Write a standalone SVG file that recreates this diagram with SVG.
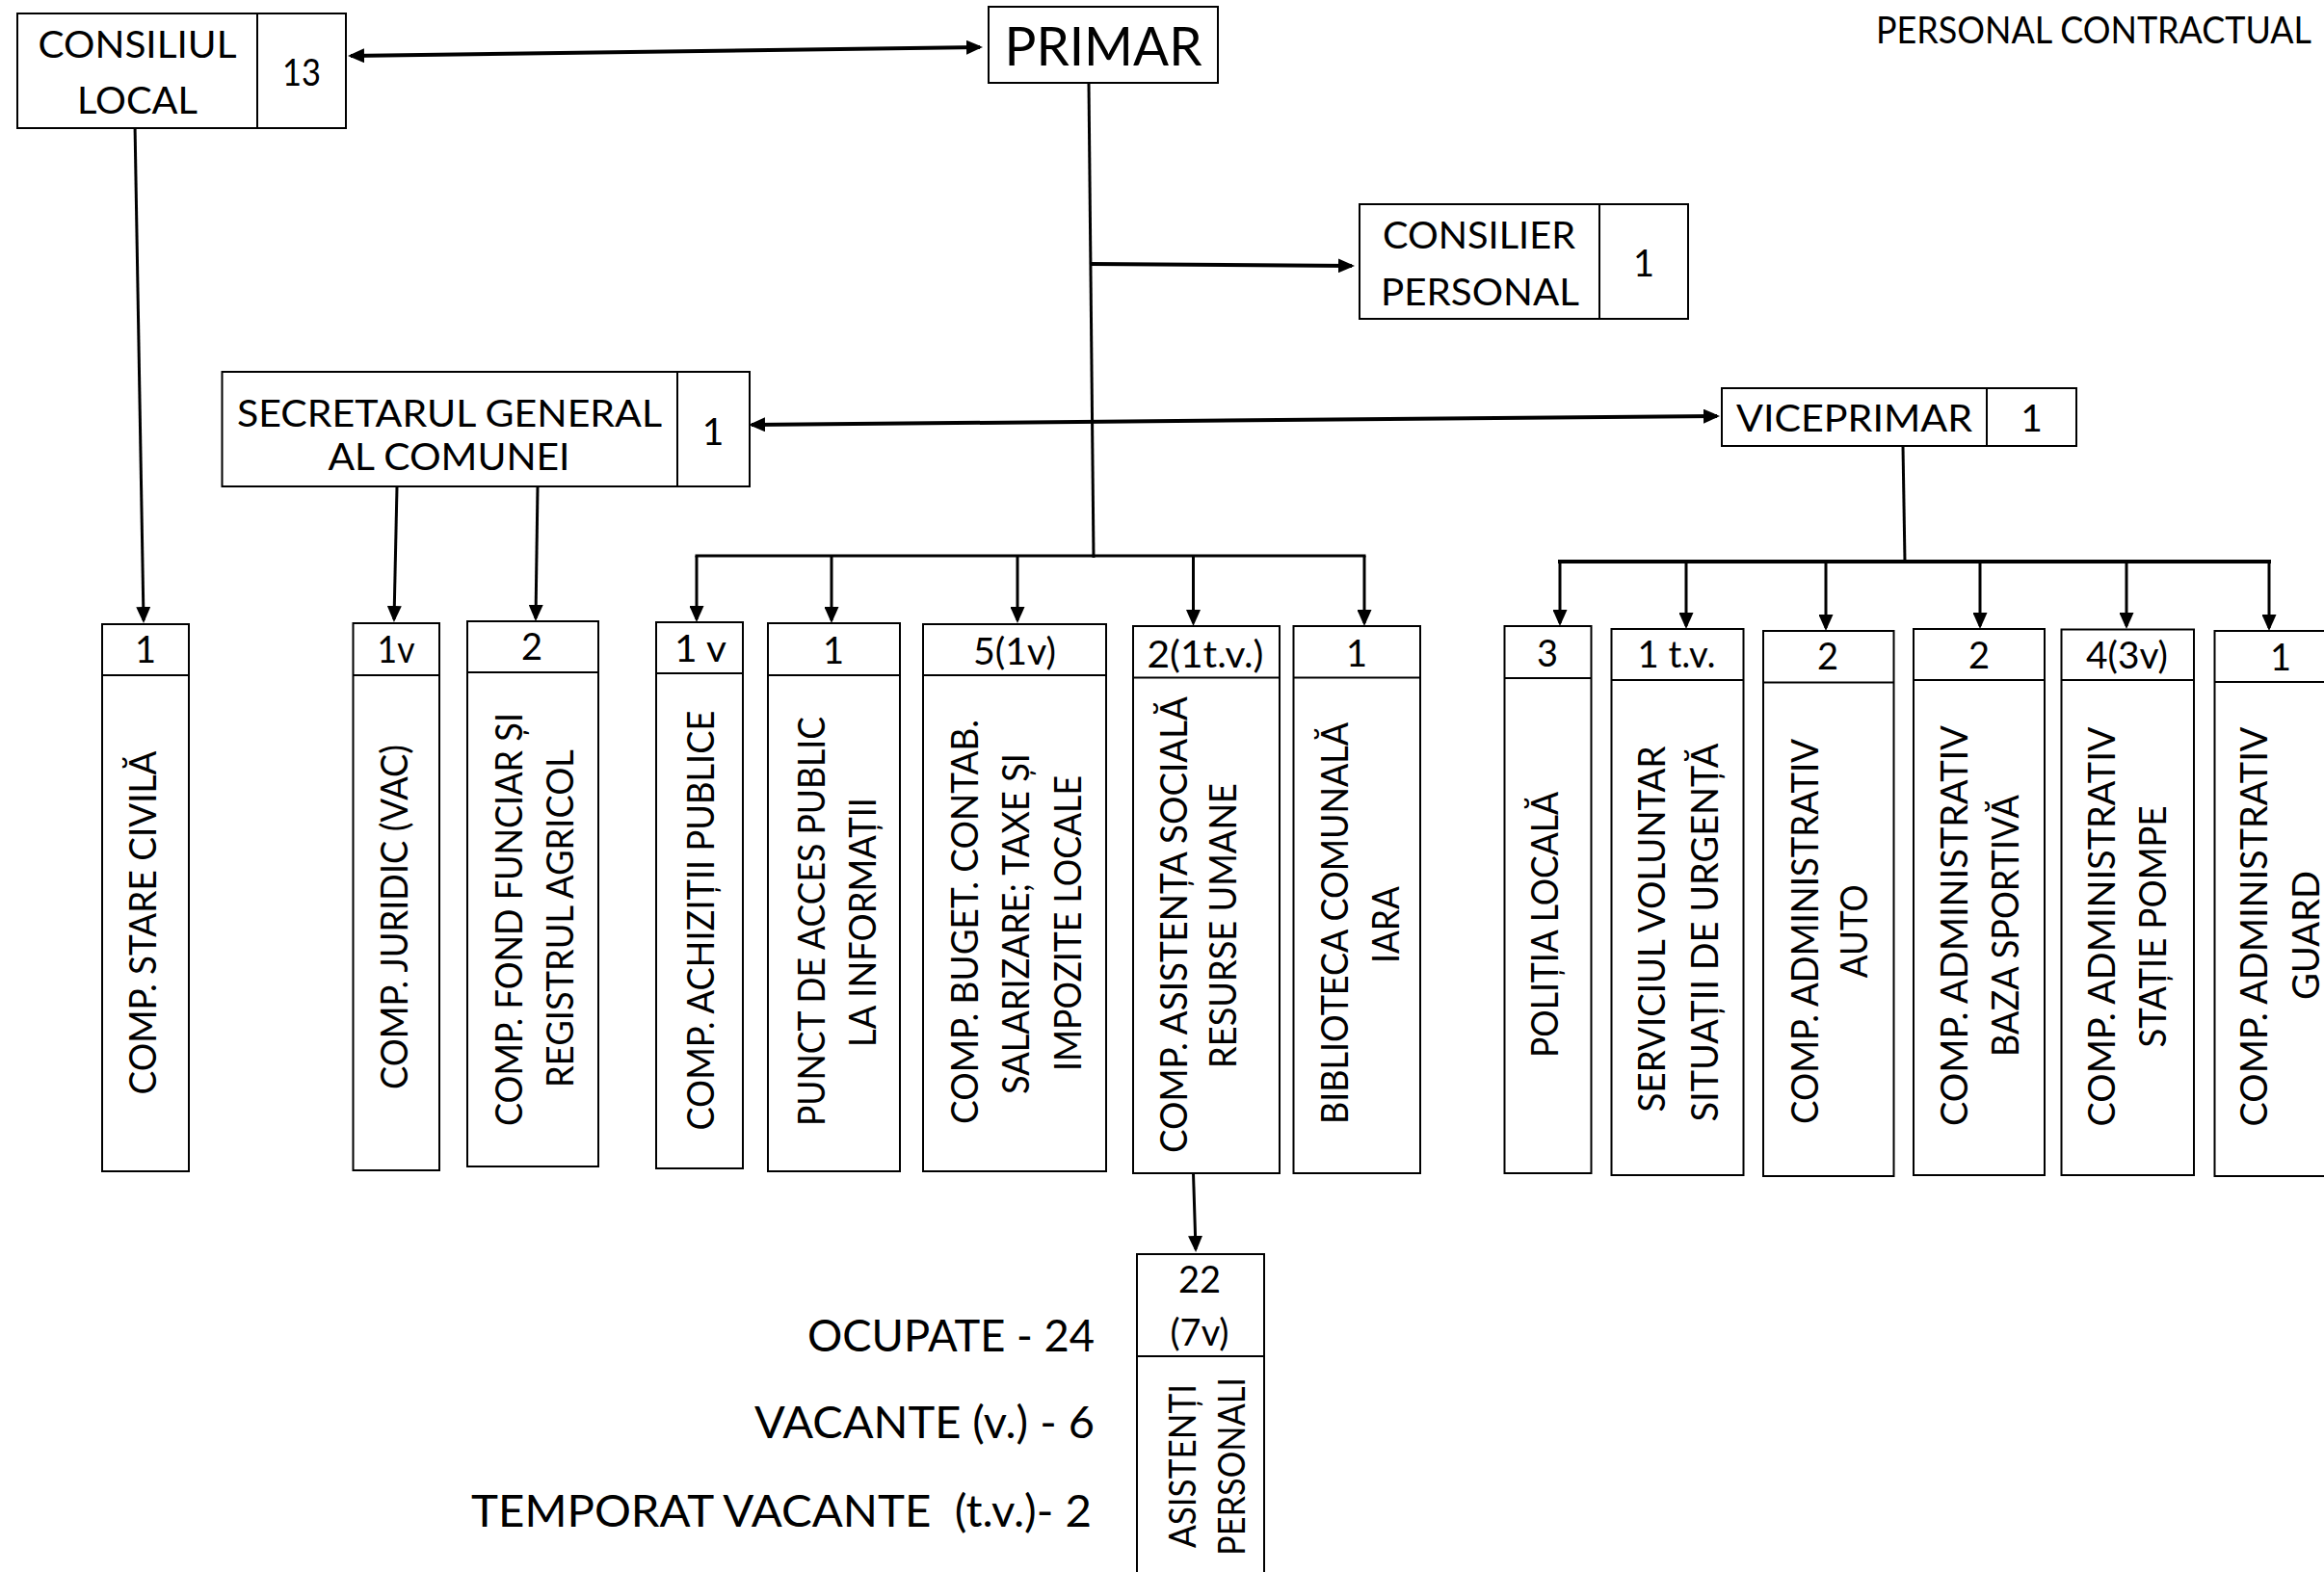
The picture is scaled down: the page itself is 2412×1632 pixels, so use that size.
<svg xmlns="http://www.w3.org/2000/svg" width="2412" height="1632" viewBox="0 0 2412 1632">
<style>
.b{fill:#fff;stroke:#000;stroke-width:2}
.d{stroke:#000;stroke-width:2}
text{font-family:Lato,"Open Sans","Liberation Sans",sans-serif;fill:#000}
.t{font-size:39px;text-anchor:middle}
.n{font-size:38px;text-anchor:middle}
.k{stroke:#000;stroke-width:3;fill:none}
.w{stroke:#000;stroke-width:4;fill:none}
.ar{marker-end:url(#ah)}
.ar2{marker-start:url(#ah);marker-end:url(#ah)}
</style>
<defs>
<marker id="ah" viewBox="0 0 17 15" refX="14" refY="7.5" markerWidth="17" markerHeight="15" markerUnits="userSpaceOnUse" orient="auto-start-reverse"><path d="M0,0 L17,7.5 L0,15 z" fill="#000"/></marker>
</defs>
<rect width="2412" height="1632" fill="#fff"/>

<g id="connectors">
<line class="w ar2" x1="364" y1="58" x2="1017" y2="49"/>
<line class="k ar" x1="140" y1="128" x2="149" y2="644"/>
<line class="k" x1="1130" y1="86" x2="1135" y2="579"/>
<line class="w ar" x1="1131" y1="274" x2="1403" y2="276"/>
<line class="w ar2" x1="780" y1="441" x2="1782" y2="432"/>
<line class="k ar" x1="412" y1="505" x2="409" y2="643"/>
<line class="k ar" x1="558" y1="505" x2="556" y2="642"/>
<line class="k" x1="723" y1="577" x2="1416" y2="577" stroke-linecap="square"/>
<line class="k ar" x1="723" y1="577" x2="723" y2="643"/>
<line class="k ar" x1="863" y1="577" x2="863" y2="644"/>
<line class="k ar" x1="1056" y1="577" x2="1056" y2="644"/>
<line class="k ar" x1="1238.5" y1="577" x2="1238.5" y2="647"/>
<line class="k ar" x1="1416" y1="577" x2="1416" y2="647"/>
<line class="k" x1="1975" y1="463" x2="1977" y2="583"/>
<line class="w" x1="1619" y1="583" x2="2355" y2="583" stroke-linecap="square"/>
<line class="k ar" x1="1619" y1="583" x2="1619" y2="647"/>
<line class="k ar" x1="1750" y1="583" x2="1750" y2="650"/>
<line class="k ar" x1="1895" y1="583" x2="1895" y2="652"/>
<line class="k ar" x1="2055" y1="583" x2="2055" y2="650"/>
<line class="k ar" x1="2207" y1="583" x2="2207" y2="650"/>
<line class="k ar" x1="2355" y1="583" x2="2355" y2="652"/>
<line class="k ar" x1="1238.5" y1="1218" x2="1241" y2="1297"/>
</g>

<g id="consiliul-local">
<rect class="b" x="18" y="14" width="341" height="119"/>
<line class="d" x1="267" y1="14" x2="267" y2="133"/>
<text class="t" x="142.5" y="60" textLength="206" lengthAdjust="spacingAndGlyphs">CONSILIUL</text>
<text class="t" x="142.5" y="118" textLength="125" lengthAdjust="spacingAndGlyphs">LOCAL</text>
<text class="n" x="313" y="89" textLength="40" lengthAdjust="spacingAndGlyphs">13</text>
</g>

<g id="primar">
<rect class="b" x="1026" y="7" width="238" height="79"/>
<text x="1145" y="68" style="font-size:56px;text-anchor:middle" textLength="205" lengthAdjust="spacingAndGlyphs">PRIMAR</text>
</g>

<g id="consilier-personal">
<rect class="b" x="1411" y="212" width="341" height="119"/>
<line class="d" x1="1660" y1="212" x2="1660" y2="331"/>
<text class="t" x="1535" y="258" textLength="200" lengthAdjust="spacingAndGlyphs">CONSILIER</text>
<text class="t" x="1536" y="317" textLength="206" lengthAdjust="spacingAndGlyphs">PERSONAL</text>
<text class="n" x="1706" y="287">1</text>
</g>

<g id="secretarul">
<rect class="b" x="230.5" y="386" width="547.5" height="119"/>
<line class="d" x1="703" y1="386" x2="703" y2="505"/>
<text class="t" x="466.5" y="443" textLength="441" lengthAdjust="spacingAndGlyphs">SECRETARUL GENERAL</text>
<text class="t" x="466" y="488" textLength="251" lengthAdjust="spacingAndGlyphs">AL COMUNEI</text>
<text class="t" x="740" y="462">1</text>
</g>

<g id="viceprimar">
<rect class="b" x="1787" y="403" width="368" height="60"/>
<line class="d" x1="2062" y1="403" x2="2062" y2="463"/>
<text class="t" x="1924.5" y="448" textLength="245" lengthAdjust="spacingAndGlyphs">VICEPRIMAR</text>
<text class="t" x="2108.5" y="448">1</text>
</g>

<g id="titlu">
<text x="2399" y="45" style="font-size:39px;text-anchor:end" textLength="452" lengthAdjust="spacingAndGlyphs">PERSONAL CONTRACTUAL</text>
</g>

<g id="stare-civila">
<rect class="b" x="106" y="648" width="90" height="568"/>
<line class="d" x1="106" y1="701" x2="196" y2="701"/>
<text class="n" x="151" y="688">1</text>
<text class="t" transform="translate(162,958) rotate(-90)" textLength="357" lengthAdjust="spacingAndGlyphs">COMP. STARE CIVILĂ</text>
</g>

<g id="juridic">
<rect class="b" x="366.5" y="647" width="89.5" height="568"/>
<line class="d" x1="366.5" y1="701" x2="456" y2="701"/>
<text class="n" x="411" y="688" textLength="39" lengthAdjust="spacingAndGlyphs">1v</text>
<text class="t" transform="translate(423,952) rotate(-90)" textLength="358" lengthAdjust="spacingAndGlyphs">COMP. JURIDIC (VAC)</text>
</g>

<g id="fond-funciar">
<rect class="b" x="485" y="645" width="136" height="566"/>
<line class="d" x1="485" y1="698" x2="621" y2="698"/>
<text class="n" x="552" y="685">2</text>
<text class="t" transform="translate(541.5,954.5) rotate(-90)" textLength="429" lengthAdjust="spacingAndGlyphs">COMP. FOND FUNCIAR ȘI</text>
<text class="t" transform="translate(595,953.5) rotate(-90)" textLength="351" lengthAdjust="spacingAndGlyphs">REGISTRUL AGRICOL</text>
</g>

<g id="achizitii">
<rect class="b" x="681" y="646" width="90" height="567"/>
<line class="d" x1="681" y1="699" x2="771" y2="699"/>
<text class="n" x="727" y="687" textLength="54" lengthAdjust="spacingAndGlyphs">1 v</text>
<text class="t" transform="translate(741,955.6) rotate(-90)" textLength="436" lengthAdjust="spacingAndGlyphs">COMP. ACHIZIȚII PUBLICE</text>
</g>

<g id="punct-acces">
<rect class="b" x="797" y="647" width="137" height="569"/>
<line class="d" x1="797" y1="701" x2="934" y2="701"/>
<text class="n" x="865" y="689">1</text>
<text class="t" transform="translate(856,956.5) rotate(-90)" textLength="425" lengthAdjust="spacingAndGlyphs">PUNCT DE ACCES PUBLIC</text>
<text class="t" transform="translate(909,957.5) rotate(-90)" textLength="259" lengthAdjust="spacingAndGlyphs">LA INFORMAȚII</text>
</g>

<g id="buget-contab">
<rect class="b" x="958" y="648" width="190" height="568"/>
<line class="d" x1="958" y1="701" x2="1148" y2="701"/>
<text class="n" x="1053" y="690" textLength="86" lengthAdjust="spacingAndGlyphs">5(1v)</text>
<text class="t" transform="translate(1015,957) rotate(-90)" textLength="420" lengthAdjust="spacingAndGlyphs">COMP. BUGET. CONTAB.</text>
<text class="t" transform="translate(1068,959) rotate(-90)" textLength="354" lengthAdjust="spacingAndGlyphs">SALARIZARE; TAXE ȘI</text>
<text class="t" transform="translate(1122,958.5) rotate(-90)" textLength="307" lengthAdjust="spacingAndGlyphs">IMPOZITE LOCALE</text>
</g>

<g id="asistenta-sociala">
<rect class="b" x="1176" y="650" width="152" height="568"/>
<line class="d" x1="1176" y1="703.5" x2="1328" y2="703.5"/>
<text class="n" x="1251" y="692.7" textLength="121" lengthAdjust="spacingAndGlyphs">2(1t.v.)</text>
<text class="t" transform="translate(1232,960) rotate(-90)" textLength="474" lengthAdjust="spacingAndGlyphs">COMP. ASISTENȚA SOCIALĂ</text>
<text class="t" transform="translate(1283,961) rotate(-90)" textLength="296" lengthAdjust="spacingAndGlyphs">RESURSE UMANE</text>
</g>

<g id="biblioteca">
<rect class="b" x="1342.5" y="650" width="131.5" height="568"/>
<line class="d" x1="1342.5" y1="703.5" x2="1474" y2="703.5"/>
<text class="n" x="1408" y="692">1</text>
<text class="t" transform="translate(1399,958.5) rotate(-90)" textLength="417" lengthAdjust="spacingAndGlyphs">BIBLIOTECA COMUNALĂ</text>
<text class="t" transform="translate(1452,960) rotate(-90)" textLength="80" lengthAdjust="spacingAndGlyphs">IARA</text>
</g>

<g id="politia-locala">
<rect class="b" x="1561.5" y="650" width="90" height="568"/>
<line class="d" x1="1561.5" y1="704" x2="1651.5" y2="704"/>
<text class="n" x="1606" y="692">3</text>
<text class="t" transform="translate(1617,960) rotate(-90)" textLength="276" lengthAdjust="spacingAndGlyphs">POLIȚIA LOCALĂ</text>
</g>

<g id="serviciul-voluntar">
<rect class="b" x="1672.5" y="653" width="137" height="567"/>
<line class="d" x1="1672.5" y1="706" x2="1809.5" y2="706"/>
<text class="n" x="1740" y="693" textLength="81" lengthAdjust="spacingAndGlyphs">1 t.v.</text>
<text class="t" transform="translate(1728,964.5) rotate(-90)" textLength="380" lengthAdjust="spacingAndGlyphs">SERVICIUL VOLUNTAR</text>
<text class="t" transform="translate(1783,968) rotate(-90)" textLength="393" lengthAdjust="spacingAndGlyphs">SITUAȚII DE URGENȚĂ</text>
</g>

<g id="adm-auto">
<rect class="b" x="1830" y="655" width="135.5" height="566"/>
<line class="d" x1="1830" y1="708.5" x2="1965.5" y2="708.5"/>
<text class="n" x="1897" y="695">2</text>
<text class="t" transform="translate(1887,967) rotate(-90)" textLength="400" lengthAdjust="spacingAndGlyphs">COMP. ADMINISTRATIV</text>
<text class="t" transform="translate(1938,966.7) rotate(-90)" textLength="97" lengthAdjust="spacingAndGlyphs">AUTO</text>
</g>

<g id="adm-baza-sportiva">
<rect class="b" x="1986" y="653" width="136" height="567"/>
<line class="d" x1="1986" y1="706" x2="2122" y2="706"/>
<text class="n" x="2054" y="693.6">2</text>
<text class="t" transform="translate(2041.5,961) rotate(-90)" textLength="416" lengthAdjust="spacingAndGlyphs">COMP.  ADMINISTRATIV</text>
<text class="t" transform="translate(2095,961) rotate(-90)" textLength="272" lengthAdjust="spacingAndGlyphs">BAZA SPORTIVĂ</text>
</g>

<g id="adm-statie-pompe">
<rect class="b" x="2139.5" y="653.5" width="137.5" height="566.5"/>
<line class="d" x1="2139.5" y1="706" x2="2277" y2="706"/>
<text class="n" x="2207.5" y="693.6" textLength="85" lengthAdjust="spacingAndGlyphs">4(3v)</text>
<text class="t" transform="translate(2195,962) rotate(-90)" textLength="415" lengthAdjust="spacingAndGlyphs">COMP.  ADMINISTRATIV</text>
<text class="t" transform="translate(2248,962) rotate(-90)" textLength="251" lengthAdjust="spacingAndGlyphs">STAȚIE POMPE</text>
</g>

<g id="adm-guard">
<rect class="b" x="2298.5" y="655" width="137.5" height="566"/>
<line class="d" x1="2298.5" y1="708" x2="2436" y2="708"/>
<text class="n" x="2367" y="695.5">1</text>
<text class="t" transform="translate(2353,962) rotate(-90)" textLength="415" lengthAdjust="spacingAndGlyphs">COMP.  ADMINISTRATIV</text>
<text class="t" transform="translate(2407,971) rotate(-90)" textLength="134" lengthAdjust="spacingAndGlyphs">GUARD</text>
</g>

<g id="asistenti-personali">
<rect class="b" x="1180" y="1302" width="132" height="360"/>
<line class="d" x1="1180" y1="1408" x2="1312" y2="1408"/>
<text class="n" x="1245" y="1342">22</text>
<text class="n" x="1245" y="1397">(7v)</text>
<text class="t" transform="translate(1241,1522) rotate(-90)" textLength="170" lengthAdjust="spacingAndGlyphs">ASISTENȚI</text>
<text class="t" transform="translate(1292,1522.5) rotate(-90)" textLength="185" lengthAdjust="spacingAndGlyphs">PERSONALI</text>
</g>

<g id="legenda">
<text x="1136" y="1403" style="font-size:46px;text-anchor:end" textLength="298" lengthAdjust="spacingAndGlyphs">OCUPATE - 24</text>
<text x="1136" y="1493" style="font-size:46px;text-anchor:end" textLength="353" lengthAdjust="spacingAndGlyphs">VACANTE (v.) - 6</text>
<text x="1133" y="1585" style="font-size:46px;text-anchor:end" textLength="644" lengthAdjust="spacingAndGlyphs">TEMPORAT VACANTE&#160; (t.v.)- 2</text>
</g>
</svg>
